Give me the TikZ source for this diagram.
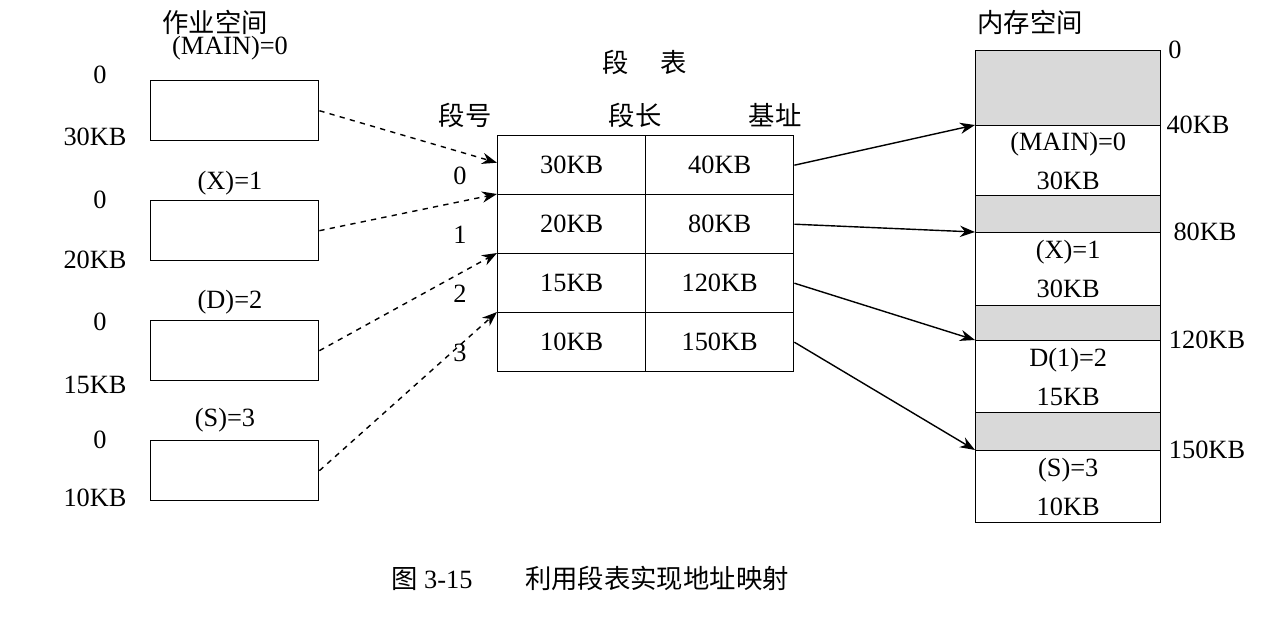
\documentclass[tikz,border=0pt]{standalone}
\usepackage{fontspec}
\setmainfont{Liberation Serif}
\newfontfamily\cjk{Noto Sans CJK SC}
\usetikzlibrary{arrows.meta, positioning}
\definecolor{memgray}{rgb}{0.85,0.85,0.85}

\begin{document}
\begin{tikzpicture}[x=0.02cm, y=-0.02cm,
    font=\fontsize{15}{18}\selectfont,
    jobbox/.style={rectangle, draw, thick, minimum width=3.36cm, minimum height=1.2cm, anchor=north west},
    cell/.style={rectangle, draw, thick, minimum width=2.96cm, minimum height=1.18cm, anchor=north west},
    mem/.style={rectangle, draw, thick, minimum width=3.7cm, anchor=north west, align=center, inner sep=0pt},
    dasharrow/.style={-{Stealth[length=3mm]}, thick, dashed},
    arrow/.style={-{Stealth[length=3mm]}, thick}
]
\useasboundingbox (0,0) rectangle (1268,623);

% job spaces
\node at (215,22) {\cjk 作业空间};
\node at (230,48) {(MAIN)=0};
\node[jobbox] (main) at (150,80) {};
\node at (100,75) {0};
\node at (95,137) {30KB};
\node at (230,183) {(X)=1};
\node[jobbox] (x) at (150,200) {};
\node at (100,200) {0};
\node at (95,260) {20KB};
\node at (230,302) {(D)=2};
\node[jobbox] (d) at (150,320) {};
\node at (100,322) {0};
\node at (95,385) {15KB};
\node at (225,420) {(S)=3};
\node[jobbox] (s) at (150,440) {};
\node at (100,440) {0};
\node at (95,498) {10KB};

% segment table
\node at (645,62) {\cjk 段\hspace{1.2em}表};
\node at (465,115) {\cjk 段号};
\node at (635,115) {\cjk 段长};
\node at (775,115) {\cjk 基址};
\foreach \i/\len/\base in {0/30KB/40KB, 1/20KB/80KB, 2/15KB/120KB, 3/10KB/150KB} {
  \node[cell] (len\i) at (497,135+59*\i) {\len};
  \node[cell] (base\i) at (645,135+59*\i) {\base};
  \node at (460,176+59*\i) {\i};
}

% memory
\node at (1030,22) {\cjk 内存空间};
\node[mem, fill=memgray, minimum height=1.5cm] (os) at (975,50) {};
\node[mem, minimum height=1.4cm] (m0) at (975,125) {(MAIN)=0\\[4pt]30KB};
\node[mem, fill=memgray, minimum height=0.74cm] (g1) at (975,195) {};
\node[mem, minimum height=1.46cm] (m1) at (975,232) {(X)=1\\[4pt]30KB};
\node[mem, fill=memgray, minimum height=0.7cm] (g2) at (975,305) {};
\node[mem, minimum height=1.44cm] (m2) at (975,340) {D(1)=2\\[4pt]15KB};
\node[mem, fill=memgray, minimum height=0.76cm] (g3) at (975,412) {};
\node[mem, minimum height=1.44cm] (m3) at (975,450) {(S)=3\\[4pt]10KB};
\node at (1175,50) {0};
\node at (1198,125) {40KB};
\node at (1205,232) {80KB};
\node at (1207,340) {120KB};
\node at (1207,450) {150KB};

% mappings
\draw[dasharrow] (main.east) -- ([yshift=0.05cm]len0.west);
\draw[dasharrow] (x.east) -- (len1.north west);
\draw[dasharrow] (d.east) -- (len2.north west);
\draw[dasharrow] (s.east) -- (len3.north west);
\draw[arrow] (base0.east) -- (m0.north west);
\draw[arrow] (base1.east) -- (m1.north west);
\draw[arrow] (base2.east) -- (m2.north west);
\draw[arrow] (base3.east) -- (m3.north west);

\node at (590,578) {{\cjk 图} 3-15\hspace{2em}{\cjk 利用段表实现地址映射}};
\end{tikzpicture}
\end{document}
